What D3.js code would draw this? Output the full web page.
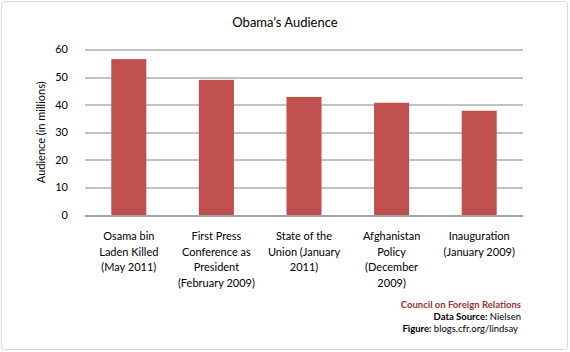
<!DOCTYPE html>
<html>
<head>
<meta charset="utf-8">
<script src="https://cdn.jsdelivr.net/npm/d3@7"></script>
<style>
  body { margin: 0; background: #fff; }
  text { font-family: Lato, "Open Sans", sans-serif; fill: #000; }
</style>
</head>
<body>
<div id="chart"></div>
<script>
// data
const categories = [
    ["Osama bin", "Laden Killed", "(May 2011)"],
    ["First Press", "Conference as", "President", "(February 2009)"],
    ["State of the", "Union (January", "2011)"],
    ["Afghanistan", "Policy", "(December", "2009)"],
    ["Inauguration", "(January 2009)"]
]
const audience = [56.5, 49, 42.8, 40.7, 37.8]
const yTicks = [0, 10, 20, 30, 40, 50, 60]

const W = 570, H = 352
const margin = {top: 49.5, right: 47, bottom: 137, left: 85}
const width = W - margin.left - margin.right
const height = H - margin.top - margin.bottom

const svg = d3.select("#chart").append("svg")
    .attr("width", W)
    .attr("height", H)

// outer frame
svg.append("rect")
    .attr("x", 1.5).attr("y", 1.5)
    .attr("width", 566).attr("height", 348)
    .attr("rx", 3)
    .attr("fill", "#fff")
    .attr("stroke", "#d9d9d9")

const g = svg.append("g")
    .attr("transform", `translate(${margin.left},${margin.top})`)

const x = d3.scaleBand()
    .domain(d3.range(categories.length))
    .range([0, width])
    .paddingInner(0.6)
    .paddingOuter(0.3)

const y = d3.scaleLinear()
    .domain([0, 60])
    .range([height, 0])

// gridlines
g.append("g")
    .selectAll("line")
    .data(yTicks)
    .join("line")
    .attr("x1", 0).attr("x2", width)
    .attr("y1", d => Math.round(y(d)) + 0.5)
    .attr("y2", d => Math.round(y(d)) + 0.5)
    .attr("stroke", "#868686")

// y tick labels
g.append("g")
    .selectAll("text")
    .data(yTicks)
    .join("text")
    .attr("x", -17)
    .attr("y", d => y(d))
    .attr("dy", "0.35em")
    .attr("text-anchor", "end")
    .style("font-size", "11px")
    .text(d => d)

// bars
g.append("g")
    .selectAll("rect")
    .data(audience)
    .join("rect")
    .attr("x", (d, i) => x(i))
    .attr("width", x.bandwidth())
    .attr("y", d => y(d))
    .attr("height", d => y(0) - y(d))
    .attr("fill", "#c0504d")

// axis line on top of bars
g.append("line")
    .attr("x1", 0).attr("x2", width)
    .attr("y1", Math.round(y(0)) + 0.5).attr("y2", Math.round(y(0)) + 0.5)
    .attr("stroke", "#868686")

// category labels
g.append("g")
    .selectAll("text")
    .data(categories)
    .join("text")
    .attr("text-anchor", "middle")
    .attr("transform", (d, i) => `translate(${x(i) + x.bandwidth() / 2},${height + 25})`)
    .style("font-size", "11px")
    .selectAll("tspan")
    .data(d => d)
    .join("tspan")
    .attr("x", 0)
    .attr("y", (d, i) => i * 15.5)
    .text(d => d)

// y axis title
svg.append("text")
    .attr("transform", `translate(45,${margin.top + height / 2}) rotate(-90)`)
    .attr("text-anchor", "middle")
    .style("font-size", "11px")
    .text("Audience (in millions)")

// title
svg.append("text")
    .attr("x", 285)
    .attr("y", 27)
    .attr("text-anchor", "middle")
    .style("font-size", "13px")
    .text("Obama\u2019s Audience")

// source notes
const notes = svg.append("g").attr("text-anchor", "end").style("font-size", "9.5px")
notes.append("text")
    .attr("x", 521).attr("y", 308)
    .style("fill", "#943634")
    .style("font-weight", "bold")
    .text("Council on Foreign Relations")
const src = notes.append("text").attr("x", 521).attr("y", 320)
src.append("tspan").style("font-weight", "bold").text("Data Source: ")
src.append("tspan").text("Nielsen")
const fig = notes.append("text").attr("x", 518).attr("y", 332)
fig.append("tspan").style("font-weight", "bold").text("Figure: ")
fig.append("tspan").text("blogs.cfr.org/lindsay")
</script>
</body>
</html>
